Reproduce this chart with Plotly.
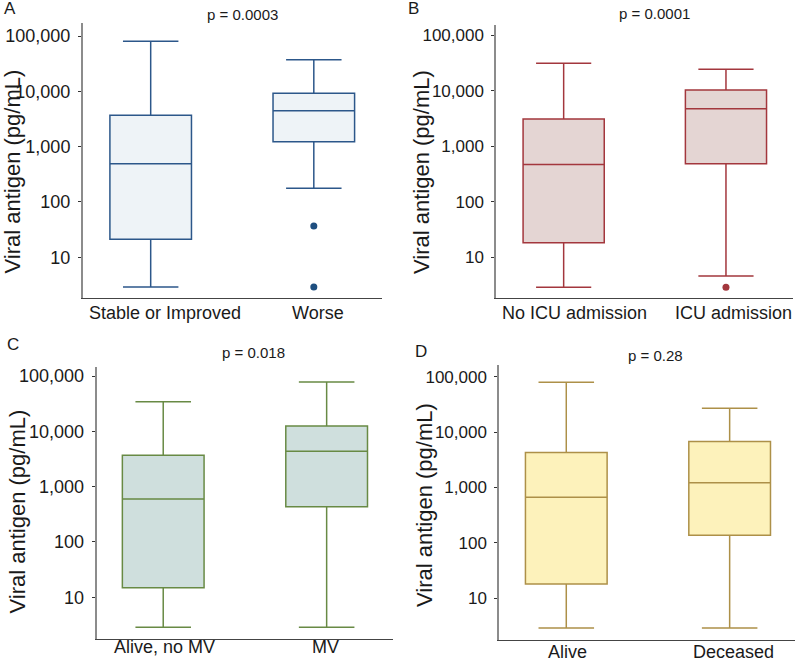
import plotly.graph_objects as go

# ---------------- data ----------------
panel_letters = ["A", "B", "C", "D"]
p_values = ["p = 0.0003", "p = 0.0001", "p = 0.018", "p = 0.28"]
categories = [
    ["Stable or Improved", "Worse"],
    ["No ICU admission", "ICU admission"],
    ["Alive, no MV", "MV"],
    ["Alive", "Deceased"],
]
lower_whisker = [[2.9, 177], [2.9, 4.6], [2.87, 2.87], [2.91, 2.91]]
q1_values = [[21.2, 1230], [18.2, 481], [14.9, 434], [18.2, 138]]
median_values = [[493, 4470], [467, 4730], [598, 4350], [668, 1215]]
q3_values = [[3680, 9200], [3070, 10250], [3680, 12500], [4290, 6780]]
upper_whisker = [[80000, 37300], [31000, 24300], [34300, 78000], [79000, 26800]]
outlier_cats = [["Worse", "Worse"], ["ICU admission"], [], []]
outlier_vals = [[36.8, 2.9], [2.9], [], []]
y_tick_vals = [10, 100, 1000, 10000, 100000]
y_tick_text = ["10", "100", "1,000", "10,000", "100,000"]
y_title = "Viral antigen (pg/mL)"

# ---------------- styles ----------------
line_colors = ["#2c578a", "#a3373d", "#688a44", "#ad9048"]
fill_colors = ["#eef3f7", "#e4d5d3", "#cfdfdd", "#fdf2bb"]
dot_colors = ["#1f4f80", "#a3373d", "#688a44", "#ad9048"]

W, H = 797, 662
def px(x):
    return x / W
def py(y):
    return 1 - y / H

# plot areas in pixels
dom_x = [(83, 381.5), (496.3, 793), (96.7, 393), (499.3, 795)]
dom_y = [(23, 298), (25, 298), (367, 639), (365, 640)]
y_ranges = [(0.264, 5.235), (0.268, 5.18), (0.246, 5.163), (0.247, 5.211)]
x_ranges = [(-0.415, 1.415), (-0.415, 1.413), (-0.407, 1.406), (-0.41, 1.40)]
ytick_sizes = [18, 17, 18, 17]

letter_pos = [(10, 8), (413, 8), (13, 344), (421, 351)]
p_pos = [(242, 14), (654, 13), (253, 353), (655, 355)]
title_pos = [(11.5, 172), (421, 172), (16.5, 512), (424, 505)]
xlabel_y = [313, 313, 647, 652]
xlabel_shift = [[14, 4.5], [11, 8], [1.7, -0.9], [1.5, 4]]

fig = go.Figure()
layout = dict(
    width=W, height=H,
    margin=dict(l=0, r=0, t=0, b=0),
    paper_bgcolor="white", plot_bgcolor="white",
    font=dict(family="Liberation Sans, Arial, sans-serif", color="#1a1a1a"),
    showlegend=False,
)
annotations = []

for i in range(4):
    sfx = "" if i == 0 else str(i + 1)
    xa, ya = "x" + sfx, "y" + sfx
    fig.add_trace(go.Box(
        x=categories[i],
        q1=q1_values[i], median=median_values[i], q3=q3_values[i],
        lowerfence=lower_whisker[i], upperfence=upper_whisker[i],
        width=0.5, whiskerwidth=0.68, boxpoints=False,
        line=dict(color=line_colors[i], width=1.5),
        fillcolor=fill_colors[i],
        xaxis=xa, yaxis=ya, showlegend=False, hoverinfo="skip",
    ))
    if outlier_vals[i]:
        fig.add_trace(go.Scatter(
            x=outlier_cats[i], y=outlier_vals[i], mode="markers",
            marker=dict(color=dot_colors[i], size=7),
            xaxis=xa, yaxis=ya, showlegend=False, hoverinfo="skip",
        ))
    layout["xaxis" + sfx] = dict(
        domain=[px(dom_x[i][0]), px(dom_x[i][1])],
        anchor=ya, type="category", categoryorder="array",
        categoryarray=categories[i], range=list(x_ranges[i]),
        showline=True, linecolor="#444444", linewidth=1,
        ticks="", showticklabels=False, showgrid=False, zeroline=False,
    )
    layout["yaxis" + sfx] = dict(
        domain=[py(dom_y[i][1]), py(dom_y[i][0])],
        anchor=xa, type="log", range=list(y_ranges[i]),
        tickvals=y_tick_vals, ticktext=y_tick_text,
        showline=True, linecolor="#8c8c8c", linewidth=2,
        ticks="outside", ticklen=3, tickcolor="#333333", tickwidth=1,
        ticklabelstandoff=4,
        showgrid=False, zeroline=False,
        tickfont=dict(size=ytick_sizes[i], color="#1a1a1a"),
    )
    for j, cat in enumerate(categories[i]):
        annotations.append(dict(
            text=cat, x=cat, y=py(xlabel_y[i]), xref=xa, yref="paper",
            xshift=xlabel_shift[i][j], showarrow=False,
            xanchor="center", yanchor="middle",
            font=dict(size=18, color="#1a1a1a"),
        ))
    annotations.append(dict(
        text=panel_letters[i], x=px(letter_pos[i][0]), y=py(letter_pos[i][1]),
        xref="paper", yref="paper", showarrow=False,
        xanchor="center", yanchor="middle", font=dict(size=17, color="#1a1a1a"),
    ))
    annotations.append(dict(
        text=p_values[i], x=px(p_pos[i][0]), y=py(p_pos[i][1]),
        xref="paper", yref="paper", showarrow=False,
        xanchor="center", yanchor="middle", font=dict(size=15, color="#1a1a1a"),
    ))
    annotations.append(dict(
        text=y_title, x=px(title_pos[i][0]), y=py(title_pos[i][1]),
        xref="paper", yref="paper", showarrow=False, textangle=-90,
        xanchor="center", yanchor="middle", font=dict(size=22, color="#1a1a1a"),
    ))

layout["annotations"] = annotations
fig.update_layout(**layout)
fig.write_html(
    "out.html",
    config={"displayModeBar": False, "staticPlot": True},
    post_script="document.body.style.margin='0';document.body.style.overflow='hidden';",
)
